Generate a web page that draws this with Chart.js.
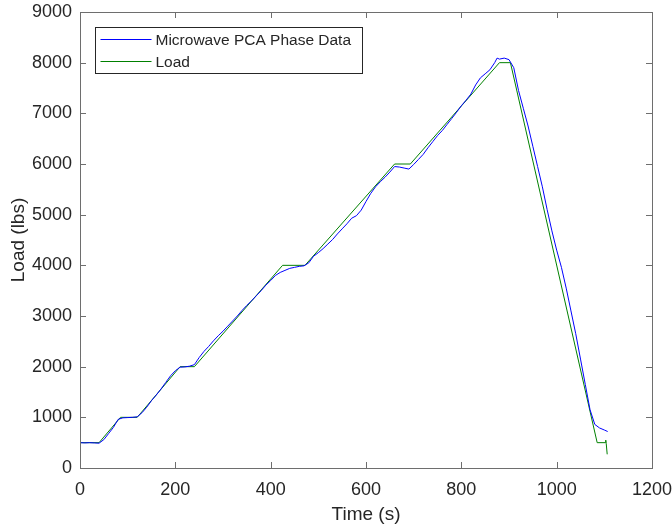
<!DOCTYPE html>
<html>
<head>
<meta charset="utf-8">
<script src="https://cdn.jsdelivr.net/npm/chart.js@4"></script>
<style>
  html, body { margin: 0; padding: 0; background: #ffffff; }
  #wrap { width: 672px; height: 529px; }
</style>
</head>
<body>
<div id="wrap"><canvas id="chartCanvas" width="672" height="529"></canvas></div>
<script>
// Microwave PCA phase data (blue), sampled every ~10 s
const pcaTime = [0, 10, 20, 30, 40, 50, 60, 70, 80, 90, 100, 110, 120, 130, 140, 150, 160, 170, 180, 190,
  200, 210, 220, 230, 240, 250, 260, 270, 280, 290, 300, 310, 320, 330, 340, 350, 360, 370, 380, 390,
  400, 410, 420, 430, 440, 450, 460, 470, 480, 490, 500, 510, 520, 530, 540, 550, 560, 570, 580, 590,
  600, 610, 620, 630, 640, 650, 660, 670, 680, 690, 700, 710, 720, 730, 740, 750, 760, 770, 780, 790,
  800, 810, 820, 830, 840, 850, 860, 870, 875, 880, 890, 900, 910, 920, 930, 940, 950, 960, 970, 980,
  990, 1000, 1010, 1020, 1030, 1040, 1050, 1060, 1070, 1080, 1090, 1100, 1107];
const pcaLoad = [500, 495, 500, 495, 490, 560, 680, 800, 960, 990, 995, 1000, 1010, 1090, 1200, 1330, 1440, 1560, 1690, 1820,
  1920, 1990, 1995, 2010, 2040, 2180, 2300, 2400, 2510, 2610, 2700, 2800, 2900, 3000, 3110, 3210, 3300, 3400, 3500, 3610,
  3700, 3800, 3860, 3900, 3940, 3960, 3980, 3990, 4050, 4180, 4250, 4330, 4420, 4510, 4620, 4720, 4820, 4930, 4980, 5090,
  5260, 5420, 5550, 5650, 5740, 5840, 5950, 5940, 5920, 5900, 5990, 6090, 6190, 6320, 6440, 6560, 6660, 6780, 6900, 7020,
  7150, 7260, 7380, 7560, 7700, 7780, 7860, 8000, 8090, 8070, 8090, 8060, 7900, 7450, 7100, 6750, 6350, 5950, 5550, 5100,
  4680, 4300, 3960, 3550, 3100, 2650, 2150, 1650, 1150, 860, 790, 750, 720];

// Applied load (green), piecewise ramps and holds
const loadTime = [0, 40, 85, 120, 210, 240, 425, 472, 660, 693, 880, 903, 1085, 1102, 1103, 1104, 1106];
const loadValues = [500, 500, 1000, 1000, 2000, 2000, 4000, 4000, 6000, 6000, 8000, 8000, 500, 500, 550, 480, 270];

const xTicks = [0, 200, 400, 600, 800, 1000, 1200];
const yTicks = [0, 1000, 2000, 3000, 4000, 5000, 6000, 7000, 8000, 9000];

const textColor = '#262626';
const axisColor = '#6e6e6e';
const fontFamily = '"Liberation Sans", Arial, sans-serif';

// MATLAB-style box with inward ticks, plus a legend inside the axes
const boxPlugin = {
  id: 'matlabBox',
  afterDraw(chart) {
    const { ctx, chartArea: a, scales } = chart;
    ctx.save();
    ctx.strokeStyle = axisColor;
    ctx.lineWidth = 1;
    ctx.strokeRect(Math.round(a.left) + 0.5, Math.round(a.top) + 0.5,
      Math.round(a.right - a.left), Math.round(a.bottom - a.top));
    const len = 6;
    ctx.beginPath();
    xTicks.forEach(v => {
      const px = Math.round(scales.x.getPixelForValue(v)) + 0.5;
      ctx.moveTo(px, a.bottom); ctx.lineTo(px, a.bottom - len);
      ctx.moveTo(px, a.top); ctx.lineTo(px, a.top + len);
    });
    yTicks.forEach(v => {
      const py = Math.round(scales.y.getPixelForValue(v)) + 0.5;
      ctx.moveTo(a.left, py); ctx.lineTo(a.left + len, py);
      ctx.moveTo(a.right, py); ctx.lineTo(a.right - len, py);
    });
    ctx.stroke();

    // legend
    const lx = Math.round(a.left) + 15.5, ly = Math.round(a.top) + 15.5, lw = 267, lh = 46;
    ctx.fillStyle = '#ffffff';
    ctx.fillRect(lx, ly, lw, lh);
    ctx.strokeStyle = textColor;
    ctx.strokeRect(lx, ly, lw, lh);
    ctx.font = '15.5px ' + fontFamily;
    ctx.textBaseline = 'middle';
    chart.data.datasets.forEach((ds, i) => {
      const y = ly + 12 + i * 22;
      ctx.strokeStyle = ds.borderColor;
      ctx.beginPath();
      ctx.moveTo(lx + 5, y); ctx.lineTo(lx + 56, y);
      ctx.stroke();
      ctx.fillStyle = textColor;
      ctx.fillText(ds.label, lx + 60, y + 1);
    });
    ctx.restore();
  }
};

const ctx = document.getElementById('chartCanvas').getContext('2d');

new Chart(ctx, {
  type: 'line',
  data: {
    datasets: [
      {
        label: 'Microwave PCA Phase Data',
        data: pcaTime.map((t, i) => ({ x: t, y: pcaLoad[i] })),
        borderColor: '#0000ff',
        borderWidth: 1,
        pointRadius: 0,
        tension: 0
      },
      {
        label: 'Load',
        data: loadTime.map((t, i) => ({ x: t, y: loadValues[i] })),
        borderColor: '#008000',
        borderWidth: 1,
        pointRadius: 0,
        tension: 0
      }
    ]
  },
  options: {
    responsive: false,
    animation: false,
    layout: { padding: { top: 12, right: 20, left: 0, bottom: 0 } },
    plugins: {
      legend: { display: false },
      tooltip: { enabled: false }
    },
    scales: {
      x: {
        type: 'linear',
        min: 0,
        max: 1200,
        afterFit: s => { s.height = 61; s.paddingLeft = 0; s.paddingRight = 0; },
        afterBuildTicks: s => { s.ticks = xTicks.map(v => ({ value: v })); },
        grid: { display: false, drawTicks: false },
        border: { display: false },
        ticks: {
          color: textColor,
          padding: 11,
          maxRotation: 0,
          callback: v => String(v),
          font: { family: fontFamily, size: 18 }
        },
        title: {
          display: true,
          text: 'Time (s)',
          color: textColor,
          padding: { top: 0, bottom: 3 },
          font: { family: fontFamily, size: 19 }
        }
      },
      y: {
        type: 'linear',
        min: 0,
        max: 9000,
        afterFit: s => { s.width = 80; s.paddingTop = 0; s.paddingBottom = 0; },
        afterBuildTicks: s => { s.ticks = yTicks.map(v => ({ value: v })); },
        grid: { display: false, drawTicks: false },
        border: { display: false },
        ticks: {
          color: textColor,
          padding: 8,
          callback: v => String(v),
          font: { family: fontFamily, size: 18 }
        },
        title: {
          display: true,
          text: 'Load (lbs)',
          color: textColor,
          padding: { top: 7, bottom: 0 },
          font: { family: fontFamily, size: 19 }
        }
      }
    }
  },
  plugins: [boxPlugin]
});
</script>
</body>
</html>
